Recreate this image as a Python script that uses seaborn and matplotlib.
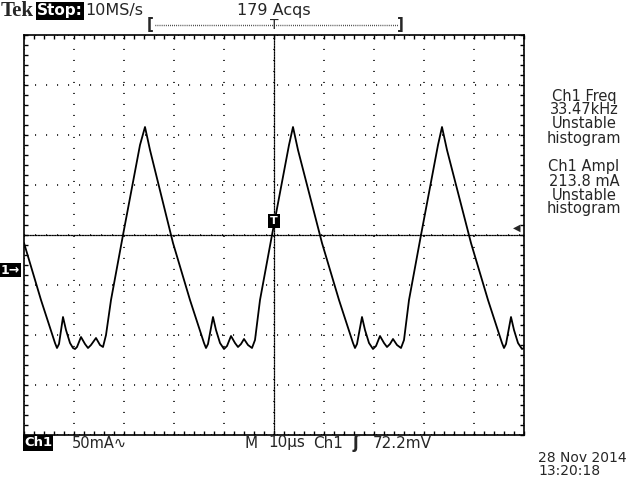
import numpy as np
import matplotlib
matplotlib.use('Agg')
import matplotlib.pyplot as plt
import seaborn as sns

tempo_us = [-50.0, -46.6, -43.8, -43.4, -43.0, -42.2, -41.6, -40.8, -40.2, -39.8, -39.4, -38.6,
            -37.8, -37.2, -36.6, -35.6, -34.8, -34.2, -33.6, -32.6, -30.2, -26.8, -25.8,
            -24.8, -20.2, -16.8, -14.0, -13.6, -13.2, -12.2, -11.6, -10.8, -10.0, -9.4, -8.6,
            -7.8, -7.2, -6.6, -6.0, -5.2, -4.4, -3.8, -2.8, -0.4, 3.0, 3.8,
            4.8, 9.6, 13.0, 15.8, 16.2, 16.6, 17.6, 18.2, 19.0, 19.8, 20.4, 21.2,
            22.0, 22.6, 23.2, 23.8, 24.6, 25.4, 26.0, 27.0, 29.4, 32.8, 33.6,
            34.6, 39.4, 42.8, 45.6, 46.0, 46.4, 47.4, 48.0, 48.8, 49.6, 50.0]
corrente_ma = [27, -30, -73, -78, -74, -47, -60, -73, -78, -79, -77, -67,
               -74, -78, -75, -68, -75, -77, -65, -30, 35, 125, 143,
               120, 27, -30, -73, -78, -74, -47, -60, -73, -79, -76, -66,
               -73, -77, -74, -69, -75, -78, -70, -30, 35, 125, 143,
               120, 27, -30, -73, -78, -74, -47, -60, -73, -79, -76, -66,
               -73, -77, -74, -69, -75, -78, -70, -30, 35, 125, 143,
               120, 27, -30, -73, -78, -74, -47, -60, -73, -79, -78]

# textos da tela
medidas = ["Ch1 Freq", "33.47kHz", "Unstable", "histogram",
           "Ch1 Ampl", "213.8 mA", "Unstable", "histogram"]
medidas_y = [96, 110, 124, 138, 167, 181, 195, 209]

sns.set_style('white')
plt.rcParams['font.family'] = ['DejaVu Sans']

W, H = 640, 480
def px(x, y):
    return x / W, 1 - y / H

fig = plt.figure(figsize=(6.4, 4.8), dpi=100)
fig.patch.set_facecolor('white')
pos = [24 / W, 45 / H, 500 / W, 400 / H]

# --- graticula (10 x 8 divisoes) ---
ax = fig.add_axes(pos)
ax.set_xlim(-50, 50)
ax.set_ylim(-165, 235)
ax.set_xticks(np.arange(-50, 51, 10))
ax.set_yticks(np.arange(-165, 236, 50))
ax.set_xticks(np.arange(-50, 51, 2), minor=True)
ax.set_yticks(np.arange(-165, 236, 10), minor=True)
ax.tick_params(which='both', direction='in', length=3, width=1, color='black',
               top=True, right=True, bottom=True, left=True,
               labelbottom=False, labelleft=False)
ax.grid(True, which='major', color='black', linestyle=(0, (0.72, 6.48)), linewidth=1.1)
for s in ax.spines.values():
    s.set_color('black')
    s.set_linewidth(1.2)

# eixos centrais com marcas
ax_c = fig.add_axes(pos, facecolor='none')
ax_c.set_xlim(-50, 50)
ax_c.set_ylim(-165, 235)
ax_c.set_xticks(np.arange(-50, 51, 10))
ax_c.set_yticks(np.arange(-165, 236, 50))
ax_c.set_xticks(np.arange(-50, 51, 2), minor=True)
ax_c.set_yticks(np.arange(-165, 236, 10), minor=True)
for lado in ['top', 'right']:
    ax_c.spines[lado].set_visible(False)
for lado in ['left', 'bottom']:
    ax_c.spines[lado].set_position(('axes', 0.5))
    ax_c.spines[lado].set_linestyle((0, (1.0, 1.2)))
    ax_c.spines[lado].set_linewidth(0.9)
    ax_c.spines[lado].set_color('black')
ax_c.tick_params(which='both', direction='inout', length=5, width=1, color='black',
                 labelbottom=False, labelleft=False)

# --- o sinal ---
sns.lineplot(x=tempo_us, y=corrente_ma, ax=ax_c, color='black', linewidth=1.3,
             estimator=None, sort=False)
ax_c.set_xlabel('')
ax_c.set_ylabel('')
ax_c.set_xlim(-50, 50)
ax_c.set_ylim(-165, 235)

# --- cabecalho ---
fig.text(*px(1, 11), "Tek", family='Liberation Serif', weight='bold', fontsize=15, va='center')
fig.text(*px(37, 11), "Stop:", color='white', weight='bold', fontsize=11, va='center',
         bbox=dict(facecolor='black', edgecolor='none', pad=1.0))
fig.text(*px(85, 10), "10MS/s", fontsize=11.5, va='center')
fig.text(*px(237, 10), "179 Acqs", fontsize=11.5, va='center')
fig.text(*px(147, 25), "[", fontsize=11, va='center', weight='bold')
fig.text(*px(397, 25), "]", fontsize=11, va='center', weight='bold')
fig.add_artist(plt.Line2D([155 / W, 398 / W], [1 - 25 / H, 1 - 25 / H], color='black',
                          linewidth=1, linestyle=(0, (0.5, 1.0))))
fig.text(*px(274, 25), "T", fontsize=10, ha='center', va='center')

# --- medidas a direita ---
for txt, yy in zip(medidas, medidas_y):
    fig.text(*px(584, yy), txt, fontsize=10.5, ha='center', va='center')

# --- marcadores ---
fig.text(*px(1, 270), "1→", color='white', weight='bold', fontsize=9, va='center',
         bbox=dict(facecolor='black', edgecolor='none', pad=0.5))
fig.text(*px(517, 228), "◀", fontsize=7, ha='center', va='center')
fig.text(*px(274, 221), "T", color='white', weight='bold', fontsize=8, ha='center', va='center',
         bbox=dict(facecolor='black', edgecolor='none', pad=1.5))

# --- rodape ---
fig.text(*px(24, 443), "Ch1", color='white', weight='bold', fontsize=9.5, va='center',
         bbox=dict(facecolor='black', edgecolor='none', pad=0.8))
fig.text(*px(72, 443), "50mA\u223f", fontsize=10.5, va='center')
fig.text(*px(245, 443), "M", fontsize=11, va='center')
fig.text(*px(268, 443), "10µs", fontsize=11, va='center')
fig.text(*px(313, 443), "Ch1", fontsize=11, va='center')
fig.text(*px(353, 443), "ʃ", fontsize=12, va='center', weight='bold')
fig.text(*px(373, 443), "72.2mV", fontsize=11, va='center')
fig.text(*px(538, 458), "28 Nov 2014", fontsize=10, va='center')
fig.text(*px(538, 471), "13:20:18", fontsize=10, va='center')

fig.savefig('out.png', dpi=100, facecolor='white')
